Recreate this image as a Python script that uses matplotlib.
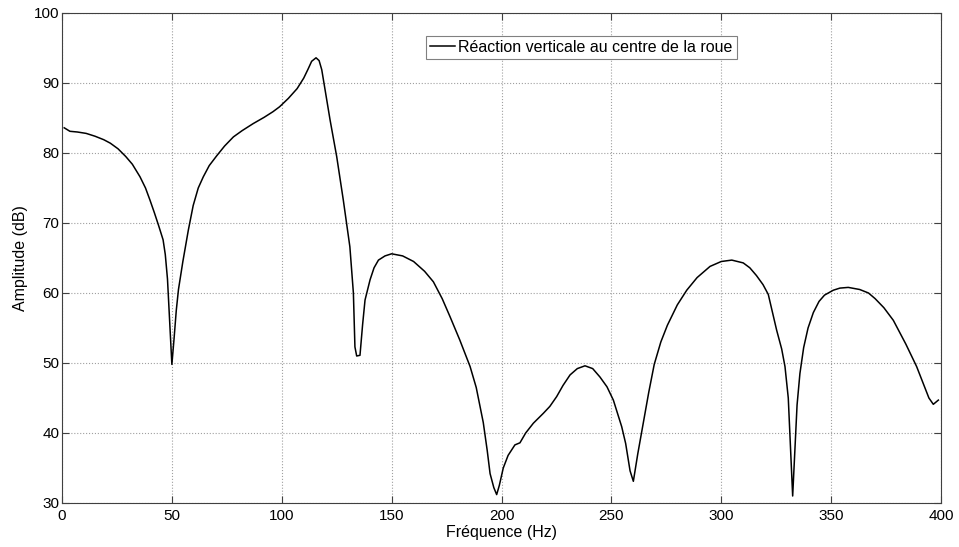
import matplotlib
matplotlib.use("Agg")
from matplotlib import pyplot as plt

plt.rcParams['font.family'] = ['Liberation Sans', 'DejaVu Sans']

# readings (Hz, dB)
freq = [1, 3.6, 7, 11, 15, 19, 22, 25.5, 29, 32, 35.5, 38, 40, 42, 44, 46,
        47, 48, 49, 50, 51, 52, 53, 55, 57.5, 59.7, 62, 64.3, 67, 70.4, 74,
        78, 82, 87, 92, 96, 99, 103, 107, 110, 112, 113.6, 115.6, 117,
        118.2, 120, 122, 125, 128, 131, 132.6, 133.3, 134.1, 135.6, 136.8,
        137.9, 140.2, 142, 144, 147, 150, 155, 160, 165, 169, 173, 176.6,
        181, 185.7, 188.5, 191.7, 193.5, 194.8, 196.5, 197.8, 199, 200.8,
        203, 206.1, 208.4, 211, 214.5, 219, 222, 225.1, 228, 231.2, 234.5,
        238, 241.5, 244.8, 248, 250.9, 254.7, 256.5, 258.5, 260, 262,
        264.5, 267, 269.5, 272.5, 275.5, 280, 284.3, 289, 294.9, 300, 304.8,
        310, 313, 316, 319, 321.4, 325.2, 327.5, 329, 330.5, 331.5, 332.5,
        333.5, 334.5, 335.8, 337.5, 339.5, 341.9, 344.5, 347, 351, 354,
        357.8, 363, 367, 370, 374, 378.3, 384, 388.9, 392, 394.5, 396.5,
        398.8]
amp = [83.6, 83.1, 83.0, 82.8, 82.4, 81.9, 81.4, 80.6, 79.5, 78.4, 76.6,
       75.0, 73.3, 71.5, 69.6, 67.6, 65.5, 62, 56, 49.8, 53.5, 57.5, 60.5,
       64.5, 69.0, 72.5, 75.0, 76.6, 78.2, 79.6, 81.0, 82.3, 83.2, 84.2,
       85.1, 85.9, 86.6, 87.8, 89.2, 90.7, 92.0, 93.1, 93.6, 93.2, 91.9,
       88.5, 84.7, 79.5, 73.3, 66.6, 60, 52.3, 51, 51.1, 55.5, 59, 61.9,
       63.6, 64.7, 65.3, 65.6, 65.3, 64.5, 63.1, 61.6, 59.2, 56.6, 53.3,
       49.5, 46.5, 41.5, 37.5, 34.2, 32.2, 31.2, 32.5, 35.0, 36.8, 38.3,
       38.6, 40.0, 41.4, 42.8, 43.8, 45.2, 46.8, 48.3, 49.2, 49.6, 49.2,
       48.0, 46.6, 44.7, 40.9, 38.5, 34.6, 33.1, 37.0, 41.4, 45.8, 49.8,
       53.0, 55.4, 58.3, 60.4, 62.2, 63.8, 64.5, 64.7, 64.3, 63.6, 62.5,
       61.2, 59.8, 54.7, 52.0, 49.5, 45.0, 38.0, 31.0, 37.5, 44.0, 48.5,
       52.2, 55.0, 57.2, 58.8, 59.7, 60.4, 60.7, 60.8, 60.5, 60.0, 59.2,
       57.9, 56.1, 52.7, 49.5, 47.0, 45.0, 44.1, 44.7]

xticks = [0, 50, 100, 150, 200, 250, 300, 350, 400]
yticks = [30, 40, 50, 60, 70, 80, 90, 100]

fig = plt.figure(figsize=(9.59, 5.47), dpi=100)
ax = fig.add_axes([62 / 959, 44 / 547, 879 / 959, 490 / 547])

ax.plot(freq, amp, color='black', linewidth=1.1,
        label="Réaction verticale au centre de la roue")

ax.set_xlim(0, 400)
ax.set_ylim(30, 100)
ax.set_xticks(xticks)
ax.set_yticks(yticks)
ax.grid(True, linestyle=':', color='#a0a0a0', linewidth=0.8)
ax.tick_params(direction='in', top=True, right=True, length=5,
               labelsize=11, color='#404040', pad=2)
ax.tick_params(axis='x', pad=4)
for sp in ax.spines.values():
    sp.set_color('#404040')

ax.set_xlabel("Fréquence (Hz)", fontsize=11.5, labelpad=2)
ax.set_ylabel("Amplitude (dB)", fontsize=11.5, labelpad=4)

leg = ax.legend(loc='upper left', bbox_to_anchor=(0.4138, 0.953),
                borderaxespad=0, fontsize=11.5, handlelength=1.6,
                handletextpad=0.2, borderpad=0.25, fancybox=False,
                framealpha=1)
leg.get_frame().set_edgecolor('#808080')
leg.get_frame().set_linewidth(0.8)

fig.savefig("out.png", dpi=100)
